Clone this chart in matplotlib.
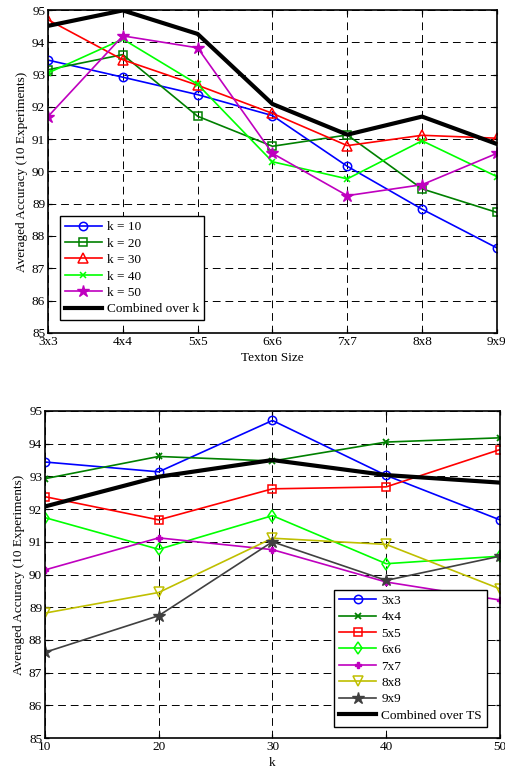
"""
Averaged accuracy vs texton size and vs k (two stacked panels)
"""

import matplotlib
matplotlib.use('Agg')
import matplotlib.pyplot as plt

plt.rcParams['font.family'] = ['Liberation Serif', 'DejaVu Serif']
plt.rcParams['font.size'] = 9.5

# Top panel: accuracy vs texton size, one line per k
TEXTON_SIZES = ['3x3', '4x4', '5x5', '6x6', '7x7', '8x8', '9x9']
k10 = [93.45, 92.92, 92.38, 91.73, 90.16, 88.83, 87.63]
k20 = [93.15, 93.62, 91.71, 90.78, 91.13, 89.46, 88.73]
k30 = [94.70, 93.46, 92.67, 91.80, 90.80, 91.12, 91.03]
k40 = [93.05, 94.10, 92.70, 90.30, 89.77, 90.95, 89.84]
k50 = [91.70, 94.20, 93.83, 90.56, 89.25, 89.59, 90.56]
combined_k = [94.51, 94.99, 94.26, 92.09, 91.14, 91.70, 90.85]

# Bottom panel: accuracy vs k, one line per texton size
K_VALUES = [10, 20, 30, 40, 50]
ts3 = [93.44, 93.14, 94.71, 93.03, 91.67]
ts4 = [92.93, 93.61, 93.47, 94.05, 94.18]
ts5 = [92.38, 91.67, 92.62, 92.68, 93.82]
ts6 = [91.74, 90.77, 91.80, 90.33, 90.56]
ts7 = [90.14, 91.12, 90.76, 89.77, 89.22]
ts8 = [88.82, 89.45, 91.11, 90.92, 89.56]
ts9 = [87.62, 88.74, 91.00, 89.82, 90.56]
combined_ts = [92.08, 92.99, 93.50, 93.04, 92.81]

YLABEL = 'Averaged Accuracy (10 Experiments)'


def style_axes(ax):
    ax.set_ylim(85, 95)
    ax.set_yticks(range(85, 96))
    ax.grid(True, color='black', linestyle=(0, (8, 5)), linewidth=0.7)
    ax.tick_params(direction='in', top=True, right=True, length=3, width=0.9, pad=2)
    for sp in ax.spines.values():
        sp.set_linewidth(1.2)
    ax.set_ylabel(YLABEL, labelpad=3)


def add_legend(ax, loc, anchor):
    leg = ax.legend(loc=loc, bbox_to_anchor=anchor, fancybox=False,
                    edgecolor='black', framealpha=1, borderpad=0.35,
                    handlelength=2.8, labelspacing=0.32, handletextpad=0.4)
    leg.get_frame().set_linewidth(1.0)
    return leg


fig = plt.figure(figsize=(5.05, 7.74), dpi=100)

# ---- top panel ----
ax1 = fig.add_axes([0.095, 0.570, 0.889, 0.417])
x1 = range(len(TEXTON_SIZES))
ax1.plot(x1, k10, color='blue', marker='o', mfc='none', ms=6, lw=1.2, mew=1.1, label='k = 10')
ax1.plot(x1, k20, color='#008000', marker='s', mfc='none', ms=6, lw=1.2, mew=1.1, label='k = 20')
ax1.plot(x1, k30, color='red', marker='^', mfc='none', ms=7, lw=1.2, mew=1.1, label='k = 30')
ax1.plot(x1, k40, color='#00ff00', marker='x', ms=5, lw=1.2, mew=1.1, label='k = 40')
ax1.plot(x1, k50, color='#bf00bf', marker='*', ms=9, lw=1.2, label='k = 50')
ax1.plot(x1, combined_k, color='black', lw=3, label='Combined over k')
ax1.set_xlim(0, len(TEXTON_SIZES) - 1)
ax1.set_xticks(list(x1))
ax1.set_xticklabels(TEXTON_SIZES)
style_axes(ax1)
ax1.set_xlabel('Texton Size', labelpad=3)
add_legend(ax1, 'lower left', (0.013, 0.019))

# ---- bottom panel ----
ax2 = fig.add_axes([0.089, 0.0465, 0.901, 0.4225])
ax2.plot(K_VALUES, ts3, color='blue', marker='o', mfc='none', ms=6, lw=1.2, mew=1.1, label='3x3')
ax2.plot(K_VALUES, ts4, color='#008000', marker='x', ms=5, lw=1.2, mew=1.3, label='4x4')
ax2.plot(K_VALUES, ts5, color='red', marker='s', mfc='none', ms=6, lw=1.2, mew=1.1, label='5x5')
ax2.plot(K_VALUES, ts6, color='#00ff00', marker='d', mfc='none', ms=6, lw=1.2, mew=1.1, label='6x6')
ax2.plot(K_VALUES, ts7, color='#bf00bf', marker='P', ms=5, lw=1.2, label='7x7')
ax2.plot(K_VALUES, ts8, color='#bfbf00', marker='v', mfc='none', ms=7, lw=1.2, mew=1.1, label='8x8')
ax2.plot(K_VALUES, ts9, color='#404040', marker='*', ms=9, lw=1.2, label='9x9')
ax2.plot(K_VALUES, combined_ts, color='black', lw=3, label='Combined over TS')
ax2.set_xlim(10, 50)
ax2.set_xticks(K_VALUES)
style_axes(ax2)
ax2.set_xlabel('k', labelpad=3)
add_legend(ax2, 'lower right', (0.985, 0.015))

fig.savefig('out.png', dpi=100)
